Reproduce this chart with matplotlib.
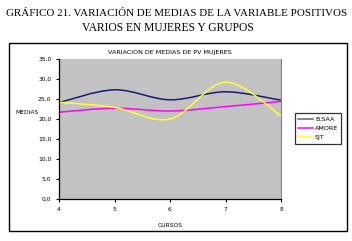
import numpy as np
import matplotlib.pyplot as plt
from matplotlib.path import Path
from matplotlib.patches import PathPatch, Rectangle
from matplotlib.lines import Line2D
from matplotlib.ticker import FuncFormatter

cursos = [4, 5, 6, 7, 8]
bsaa = [24.1, 27.3, 24.8, 26.8, 24.7]
amore = [21.7, 22.7, 22.0, 23.1, 24.4]
sjt = [24.2, 22.9, 20.0, 29.2, 20.8]

series = [('B.SAA', bsaa, '#1a1a7a', '#5c5c9c'),
          ('AMORE', amore, '#ff00ff', '#ff00ff'),
          ('SJT', sjt, '#ffff33', '#ffff33')]


def smooth_path(x, y, t=1 / 6.0):
    # bezier through the points, excel-like smoothing
    x = np.asarray(x, float)
    y = np.asarray(y, float)
    verts = [(x[0], y[0])]
    codes = [Path.MOVETO]
    n = len(x)
    for i in range(n - 1):
        p0 = i - 1 if i > 0 else i
        p3 = i + 2 if i + 2 < n else i + 1
        c1 = (x[i] + (x[i + 1] - x[p0]) * t, y[i] + (y[i + 1] - y[p0]) * t)
        c2 = (x[i + 1] - (x[p3] - x[i]) * t, y[i + 1] - (y[p3] - y[i]) * t)
        verts += [c1, c2, (x[i + 1], y[i + 1])]
        codes += [Path.CURVE4] * 3
    return Path(verts, codes)


fig = plt.figure(figsize=(3.52, 2.41), dpi=100)
fig.patch.set_facecolor('white')

# outer box
fig.patches.append(Rectangle((9 / 352, 1 - 231 / 241), 338 / 352, 188 / 241,
                             transform=fig.transFigure, fill=False, lw=1.0, ec='black'))

fig.text(177 / 352, 1 - 13 / 241, 'GRÁFICO 21. VARIACIÓN DE MEDIAS DE LA VARIABLE POSITIVOS',
         ha='center', va='center', family='Liberation Serif', fontsize=7.9)
fig.text(168 / 352, 1 - 28 / 241, 'VARIOS EN MUJERES Y GRUPOS',
         ha='center', va='center', family='Liberation Serif', fontsize=8.3)
fig.text(170 / 352, 1 - 52 / 241, 'VARIACIÓN DE MEDIAS DE PV MUJERES',
         ha='center', va='center', family='DejaVu Sans', fontsize=4.6)

ax = fig.add_axes([59 / 352, 1 - 199 / 241, 222 / 352, 140 / 241])
ax.set_facecolor('#c2c2c2')
ax.set_xlim(4, 8)
ax.set_ylim(0, 35)
ax.set_xticks(cursos)
ax.set_yticks(np.arange(0, 36, 5))
ax.yaxis.set_major_formatter(FuncFormatter(lambda v, p: ('%.1f' % v).replace('.', ',')))
ax.tick_params(labelsize=4.3, length=2.5, width=0.8, pad=3, colors='black')
ax.spines['top'].set_visible(False)
ax.spines['right'].set_color('#808080')
ax.spines['right'].set_linewidth(0.8)
ax.spines['left'].set_linewidth(0.9)
ax.spines['bottom'].set_linewidth(0.9)

handles = []
for name, vals, col, lcol in series:
    ax.add_patch(PathPatch(smooth_path(cursos, vals), fill=False, ec=col, lw=1.1))
    handles.append(Line2D([], [], color=lcol, lw=1.1, label=name))

ax.set_xlabel('CURSOS', fontsize=4.3, labelpad=8)
fig.text(27 / 352, 1 - 113 / 241, 'MEDIAS', ha='center', va='center', fontsize=4.3)

leg = fig.legend(handles=handles, loc='upper left', bbox_to_anchor=(292 / 352, 1 - 110 / 241),
                 fontsize=4.6, frameon=True, fancybox=False, edgecolor='black',
                 handlelength=2.3, borderpad=0.5, labelspacing=0.6, handletextpad=0.3)
leg.get_frame().set_linewidth(0.9)

fig.savefig('out.png', dpi=100)
